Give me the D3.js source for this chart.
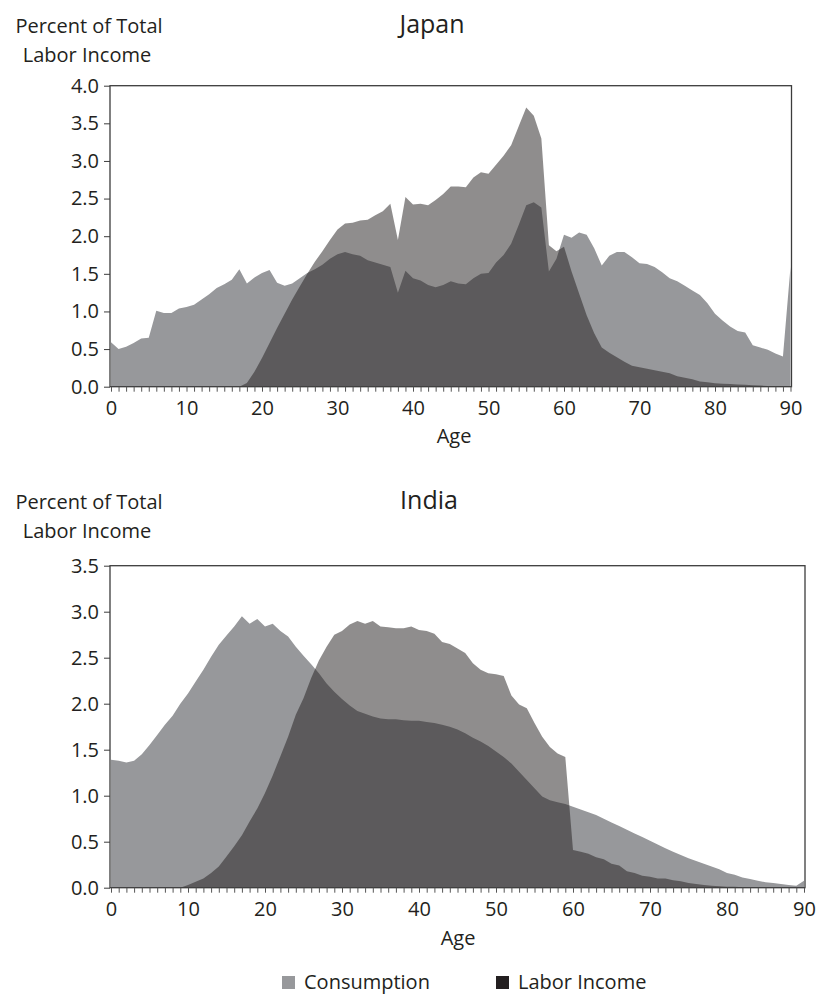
<!DOCTYPE html>
<html>
<head>
<meta charset="utf-8">
<script src="https://cdn.jsdelivr.net/npm/d3@7"></script>
<style>
  body { margin: 0; background: #fff; }
  svg { display: block; }
  text { font-family: "Open Sans", "Noto Sans", sans-serif; fill: #231f20; }
</style>
</head>
<body>
<svg id="chart" width="819" height="995"></svg>
<script>
// ---------- DATA ----------
const ages = d3.range(0, 91);

const japanConsumption = [
  0.59, 0.50, 0.53, 0.58, 0.64, 0.65, 1.01, 0.98, 0.98, 1.04,
  1.06, 1.09, 1.16, 1.23, 1.31, 1.36, 1.42, 1.56, 1.37, 1.45,
  1.51, 1.55, 1.38, 1.34, 1.37, 1.44, 1.51, 1.56, 1.62, 1.70,
  1.76, 1.79, 1.76, 1.74, 1.68, 1.65, 1.62, 1.59, 1.25, 1.54,
  1.44, 1.41, 1.35, 1.32, 1.35, 1.40, 1.37, 1.36, 1.44, 1.50,
  1.51, 1.65, 1.75, 1.90, 2.15, 2.41, 2.45, 2.38, 1.53, 1.70,
  2.02, 1.98, 2.05, 2.02, 1.84, 1.61, 1.74, 1.79, 1.79, 1.72,
  1.64, 1.63, 1.59, 1.52, 1.44, 1.40, 1.34, 1.28, 1.22, 1.11,
  0.97, 0.88, 0.80, 0.74, 0.72, 0.55, 0.52, 0.49, 0.44, 0.40,
  1.59
];

const japanLabor = [
  0, 0, 0, 0, 0, 0, 0, 0, 0, 0,
  0, 0, 0, 0, 0, 0, 0, 0.00, 0.05, 0.20,
  0.38, 0.58, 0.78, 0.97, 1.16, 1.33, 1.50, 1.66, 1.80, 1.95,
  2.09, 2.17, 2.18, 2.21, 2.22, 2.28, 2.33, 2.43, 1.95, 2.52,
  2.42, 2.43, 2.41, 2.48, 2.56, 2.66, 2.66, 2.65, 2.78, 2.85,
  2.83, 2.95, 3.07, 3.21, 3.46, 3.71, 3.60, 3.30, 1.88, 1.80,
  1.86, 1.53, 1.24, 0.95, 0.71, 0.52, 0.45, 0.39, 0.33, 0.28,
  0.26, 0.24, 0.22, 0.20, 0.18, 0.14, 0.12, 0.10, 0.07, 0.06,
  0.045, 0.04, 0.035, 0.03, 0.025, 0.02, 0.015, 0.01, 0.01, 0.005,
  0
];

const indiaConsumption = [
  1.39, 1.38, 1.36, 1.38, 1.45, 1.55, 1.66, 1.77, 1.87, 2.00,
  2.11, 2.24, 2.37, 2.51, 2.64, 2.74, 2.84, 2.95, 2.87, 2.92,
  2.84, 2.87, 2.79, 2.73, 2.62, 2.52, 2.43, 2.33, 2.22, 2.13,
  2.05, 1.98, 1.92, 1.89, 1.86, 1.84, 1.83, 1.83, 1.82, 1.815,
  1.815, 1.80, 1.79, 1.77, 1.75, 1.72, 1.68, 1.63, 1.59, 1.54,
  1.48, 1.42, 1.35, 1.26, 1.17, 1.08, 0.99, 0.95, 0.93, 0.91,
  0.88, 0.85, 0.82, 0.79, 0.75, 0.71, 0.67, 0.63, 0.59, 0.55,
  0.51, 0.47, 0.43, 0.39, 0.355, 0.32, 0.29, 0.26, 0.23, 0.20,
  0.16, 0.14, 0.11, 0.094, 0.076, 0.06, 0.05, 0.04, 0.03, 0.02,
  0.076
];

const indiaLabor = [
  0, 0, 0, 0, 0, 0, 0, 0, 0, 0.00,
  0.03, 0.065, 0.10, 0.16, 0.23, 0.34, 0.45, 0.57, 0.72, 0.86,
  1.03, 1.22, 1.43, 1.64, 1.88, 2.06, 2.28, 2.47, 2.62, 2.75,
  2.79, 2.86, 2.90, 2.87, 2.90, 2.84, 2.83, 2.82, 2.82, 2.84,
  2.80, 2.79, 2.76, 2.67, 2.65, 2.60, 2.55, 2.44, 2.37, 2.33,
  2.32, 2.30, 2.09, 1.99, 1.95, 1.79, 1.64, 1.53, 1.46, 1.42,
  0.41, 0.39, 0.37, 0.33, 0.31, 0.26, 0.24, 0.18, 0.16, 0.13,
  0.12, 0.10, 0.10, 0.08, 0.07, 0.05, 0.04, 0.03, 0.02, 0.015,
  0.01, 0.01, 0.005, 0, 0, 0, 0, 0, 0, 0,
  0
];

const xTickLabels = [0, 10, 20, 30, 40, 50, 60, 70, 80, 90];
const japanYTicks = [0, 0.5, 1.0, 1.5, 2.0, 2.5, 3.0, 3.5, 4.0];
const indiaYTicks = [0, 0.5, 1.0, 1.5, 2.0, 2.5, 3.0, 3.5];
const legendItems = ["Consumption", "Labor Income"];

// ---------- STYLE ----------
const consColor = "#97989b";
const laborColor = "#231f20";
const laborOpacity = 0.51;
const axisColor = "#3c3c3c";

const svg = d3.select("#chart");

function panel(cfg) {
  const g = svg.append("g");
  const x = d3.scaleLinear().domain([0, 90]).range([cfg.x0, cfg.x1]);
  const y = d3.scaleLinear().domain([0, cfg.yMax]).range([cfg.yBottom, cfg.yTop]);

  const cons = ages.map((a, i) => ({ a, v: cfg.cons[i] }));
  const lab = ages.map((a, i) => ({ a, v: cfg.lab[i] }));

  const area = d3.area().x(d => x(d.a)).y0(y(0)).y1(d => y(d.v));

  g.append("path").datum(cons).attr("d", area).attr("fill", consColor);
  g.append("path").datum(lab).attr("d", area)
    .attr("fill", laborColor).attr("fill-opacity", laborOpacity);

  // frame
  g.append("rect")
    .attr("x", cfg.frameL).attr("y", cfg.yTop)
    .attr("width", cfg.frameR - cfg.frameL).attr("height", cfg.yBottom - cfg.yTop)
    .attr("fill", "none").attr("stroke", axisColor).attr("stroke-width", 1.3);

  // y axis
  const ya = g.append("g").attr("transform", `translate(${cfg.frameL},0)`)
    .call(d3.axisLeft(y).tickValues(cfg.yTicks).tickFormat(d3.format(".1f"))
      .tickSize(6).tickPadding(5));
  ya.select(".domain").remove();
  ya.selectAll("line").attr("stroke", axisColor);
  ya.selectAll("text").style("font-size", "20px").attr("fill", "#231f20")
    .style("font-family", '"Open Sans", sans-serif');

  // x axis
  const xa = g.append("g").attr("transform", `translate(0,${cfg.yBottom})`)
    .call(d3.axisBottom(x).tickValues(ages)
      .tickFormat(d => xTickLabels.includes(d) ? d : "")
      .tickSize(5).tickPadding(9));
  xa.select(".domain").remove();
  xa.selectAll("line").attr("stroke", "#555").attr("stroke-width", 1);
  xa.selectAll("text").style("font-size", "20px").attr("fill", "#231f20")
    .style("font-family", '"Open Sans", sans-serif');

  // labels
  g.append("text").attr("x", cfg.titleX).attr("y", cfg.titleY)
    .attr("text-anchor", "middle").style("font-size", "25px").text(cfg.title);
  g.append("text").attr("x", 89).attr("y", cfg.titleY)
    .attr("text-anchor", "middle").style("font-size", "20px").text("Percent of Total");
  g.append("text").attr("x", 87).attr("y", cfg.titleY + 29)
    .attr("text-anchor", "middle").style("font-size", "20px").text("Labor Income");
  g.append("text").attr("x", cfg.ageX).attr("y", cfg.ageY)
    .attr("text-anchor", "middle").style("font-size", "20px").text("Age");
}

panel({
  title: "Japan", titleX: 432, titleY: 33,
  cons: japanConsumption, lab: japanLabor,
  x0: 111, x1: 790.5, frameL: 110, frameR: 791.5,
  yTop: 85.7, yBottom: 386.7, yMax: 4.0, yTicks: japanYTicks,
  ageX: 454, ageY: 443
});

panel({
  title: "India", titleX: 429, titleY: 509,
  cons: indiaConsumption, lab: indiaLabor,
  x0: 111, x1: 804, frameL: 110, frameR: 805,
  yTop: 565.7, yBottom: 887.7, yMax: 3.5, yTicks: indiaYTicks,
  ageX: 458, ageY: 945
});

// legend
const legend = svg.append("g");
const legendX = [282, 496];
const legendColors = [consColor, laborColor];
legendItems.forEach((name, i) => {
  legend.append("rect").attr("x", legendX[i]).attr("y", 976)
    .attr("width", 13).attr("height", 13).attr("fill", legendColors[i]);
  legend.append("text").attr("x", legendX[i] + 22).attr("y", 989)
    .style("font-size", "20px").text(name);
});
</script>
</body>
</html>
